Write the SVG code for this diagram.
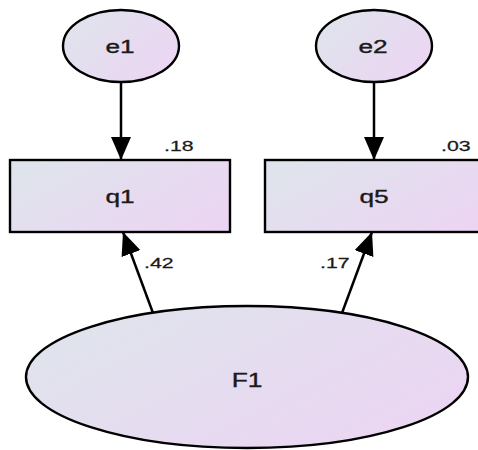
<svg xmlns="http://www.w3.org/2000/svg" width="478" height="450" viewBox="0 0 478 450">
<defs>
<linearGradient id="g" x1="0" y1="0.2" x2="1" y2="0.8">
<stop offset="0" stop-color="#dfe4ec"/>
<stop offset="1" stop-color="#ecd5f3"/>
</linearGradient>
<marker id="ah" markerUnits="userSpaceOnUse" markerWidth="24" markerHeight="20" refX="23" refY="10" orient="auto">
<path d="M0,0 L23,10 L0,20 z" fill="#000"/>
</marker>
<style>
.n{fill:url(#g);stroke:#000;stroke-width:2.4}
.t{font-family:"Liberation Sans",Arial,sans-serif;font-size:18.5px;fill:#1a1a1a;stroke:#1a1a1a;stroke-width:0.35;text-anchor:middle}
.s{font-family:"Liberation Sans",Arial,sans-serif;font-size:15px;fill:#1a1a1a;stroke:#1a1a1a;stroke-width:0.25}
.c{stroke:#000;stroke-width:2.5;fill:none;marker-end:url(#ah)}
</style>
</defs>
<rect width="478" height="450" fill="#fff"/>
<g id="connectors">
<line class="c" x1="121" y1="82" x2="121" y2="160"/>
<line class="c" x1="374" y1="82" x2="374" y2="160"/>
<line class="c" x1="153" y1="313" x2="123" y2="232"/>
<line class="c" x1="342" y1="313" x2="372" y2="232"/>
</g>
<g id="e1"><ellipse class="n" cx="121" cy="46" rx="58" ry="36"/><text class="t" transform="translate(120,53) scale(1.42,1)">e1</text></g>
<g id="e2"><ellipse class="n" cx="374" cy="46" rx="58" ry="36"/><text class="t" transform="translate(373,53) scale(1.42,1)">e2</text></g>
<g id="q1"><rect class="n" x="10" y="160" width="220" height="72"/><text class="t" transform="translate(120,203) scale(1.42,1)">q1</text><text class="s" transform="translate(164,151) scale(1.42,1)">.18</text></g>
<g id="q5"><rect class="n" x="265" y="160" width="220" height="72"/><text class="t" transform="translate(374,203) scale(1.42,1)">q5</text><text class="s" transform="translate(441,151) scale(1.42,1)">.03</text></g>
<g id="F1"><ellipse class="n" cx="247" cy="377" rx="221" ry="71"/><text class="t" transform="translate(247,387) scale(1.35,1)" style="font-size:19.5px">F1</text></g>
<g id="labels">
<text class="s" transform="translate(144,268) scale(1.42,1)">.42</text>
<text class="s" transform="translate(320,268) scale(1.42,1)">.17</text>
</g>
</svg>
